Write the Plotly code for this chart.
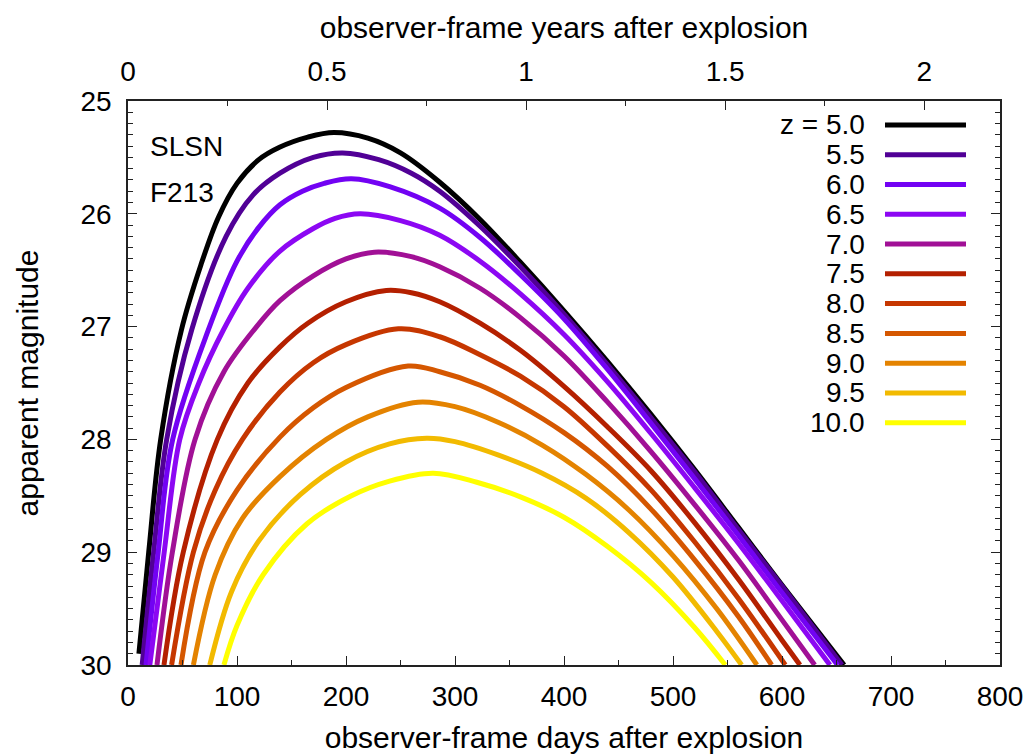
import plotly.graph_objects as go

# ---------------- data ----------------
redshift_labels = ["z = 5.0", "5.5", "6.0", "6.5", "7.0", "7.5", "8.0", "8.5", "9.0", "9.5", "10.0"]
line_colors = ["#000000", "#510096", "#7202F3", "#8C07F3", "#A11096", "#B42000",
               "#C63700", "#D55700", "#E48300", "#F2BA00", "#FFFF00"]

days_z50 = [10, 19, 30, 49, 67, 83, 100, 120, 139, 165, 189, 220, 250, 286, 323, 360, 400, 440, 480, 520, 560, 600, 657]
mag_z50 = [29.9, 29.0, 28.0, 27.03, 26.45, 26.03, 25.73, 25.52, 25.41, 25.32, 25.28, 25.33, 25.46, 25.72, 26.05, 26.43, 26.86, 27.31, 27.78, 28.27, 28.78, 29.29, 30.0]

days_z55 = [13, 23.5, 35.5, 58.4, 90, 115, 139.4, 170, 197, 230, 260, 286, 323, 360, 400, 440, 480, 520, 560, 600, 655]
mag_z55 = [30.0, 29.0, 28.0, 27.03, 26.2, 25.83, 25.64, 25.50, 25.46, 25.52, 25.64, 25.80, 26.11, 26.47, 26.89, 27.34, 27.81, 28.29, 28.80, 29.30, 30.0]

days_z60 = [16.5, 27.7, 41, 73.7, 100, 120, 139.4, 160, 180, 205, 240, 286, 323, 360, 400, 440, 480, 520, 560, 600, 651]
mag_z60 = [30.0, 29.0, 28.0, 27.03, 26.42, 26.12, 25.92, 25.8, 25.73, 25.69, 25.76, 25.95, 26.21, 26.54, 26.93, 27.38, 27.86, 28.35, 28.85, 29.36, 30.0]

days_z65 = [20, 33.2, 47.5, 65, 87.5, 110, 139.4, 170, 190, 213, 250, 286, 323, 360, 400, 440, 480, 520, 560, 600, 644]
mag_z65 = [30.0, 29.0, 28.0, 27.5, 27.03, 26.66, 26.33, 26.13, 26.04, 26.0, 26.06, 26.19, 26.42, 26.71, 27.07, 27.49, 27.95, 28.43, 28.92, 29.43, 30.0]

days_z70 = [26.6, 40.7, 61.5, 88, 118, 139.4, 170, 200, 226, 260, 286, 323, 360, 400, 440, 480, 520, 560, 600, 630]
mag_z70 = [30.0, 29.0, 28.0, 27.4, 27.0, 26.77, 26.55, 26.4, 26.34, 26.38, 26.47, 26.66, 26.92, 27.26, 27.67, 28.11, 28.58, 29.07, 29.60, 30.0]

days_z75 = [33, 50.7, 82, 110, 139.4, 165, 200, 237, 260, 286, 323, 360, 400, 440, 480, 520, 560, 600, 616.5]
mag_z75 = [30.0, 29.0, 28.0, 27.5, 27.18, 26.97, 26.78, 26.68, 26.70, 26.78, 26.97, 27.21, 27.53, 27.89, 28.28, 28.74, 29.24, 29.78, 30.0]

days_z80 = [40, 60, 80, 105, 139.4, 170, 200, 248, 286, 323, 360, 400, 440, 480, 520, 560, 603]
mag_z80 = [30.0, 29.0, 28.45, 28.0, 27.58, 27.32, 27.16, 27.02, 27.09, 27.25, 27.44, 27.71, 28.06, 28.45, 28.91, 29.41, 30.0]

days_z85 = [48.6, 70.6, 100, 139.4, 170, 200, 257, 286, 323, 360, 400, 440, 480, 520, 560, 590.5]
mag_z85 = [30.0, 29.0, 28.45, 27.98, 27.72, 27.54, 27.35, 27.40, 27.52, 27.70, 27.94, 28.24, 28.62, 29.07, 29.57, 30.0]

days_z90 = [60, 80, 105, 139.4, 182, 220, 266, 300, 340, 380, 420, 460, 500, 540, 577]
mag_z90 = [30.0, 29.2, 28.7, 28.33, 28.0, 27.8, 27.67, 27.71, 27.85, 28.05, 28.31, 28.63, 29.03, 29.5, 30.0]

days_z95 = [75, 95, 120, 158, 200, 240, 274, 300, 340, 380, 420, 460, 500, 540, 563]
mag_z95 = [30.0, 29.35, 28.9, 28.49, 28.2, 28.04, 27.99, 28.02, 28.14, 28.30, 28.52, 28.83, 29.22, 29.70, 30.0]

days_z100 = [88, 100, 124, 164, 205, 240, 280, 320, 360, 400, 440, 480, 520, 548]
mag_z100 = [30.0, 29.65, 29.2, 28.75, 28.5, 28.37, 28.30, 28.38, 28.51, 28.69, 28.95, 29.27, 29.67, 30.0]

curve_days = [days_z50, days_z55, days_z60, days_z65, days_z70, days_z75,
              days_z80, days_z85, days_z90, days_z95, days_z100]
curve_mags = [mag_z50, mag_z55, mag_z60, mag_z65, mag_z70, mag_z75,
              mag_z80, mag_z85, mag_z90, mag_z95, mag_z100]

day_ticks = [0, 100, 200, 300, 400, 500, 600, 700, 800]
year_ticks = [0, 0.5, 1, 1.5, 2]
year_tick_text = ["0", "0.5", "1", "1.5", "2"]
mag_ticks = [25, 26, 27, 28, 29, 30]
DAYS_PER_YEAR = 365.25

# ---------------- figure ----------------
FONT = "Liberation Sans, Arial, Helvetica, sans-serif"
TICK_SIZE = 28
TITLE_SIZE = 30

fig = go.Figure()
for lab, col, dd, mm in zip(redshift_labels, line_colors, curve_days, curve_mags):
    fig.add_trace(go.Scatter(
        x=dd, y=mm, mode="lines", name=lab, showlegend=False,
        line=dict(color=col, width=5, shape="spline", smoothing=1.0),
        hoverinfo="skip",
    ))

# invisible companion trace so the top (years) and right axes are drawn
fig.add_trace(go.Scatter(
    x=[d / DAYS_PER_YEAR for d in days_z50], y=mag_z50, xaxis="x2", yaxis="y2",
    mode="lines", line=dict(width=0, color="rgba(0,0,0,0)"), opacity=0,
    showlegend=False, hoverinfo="skip",
))

axis_common = dict(
    showgrid=False, zeroline=False, showline=True, linecolor="#222222", linewidth=1.5,
    ticks="inside", ticklen=9, tickwidth=1.2, tickcolor="#222222",
    tickfont=dict(family=FONT, size=TICK_SIZE, color="black"),
    automargin=False,
)

fig.update_layout(
    width=1034, height=754,
    margin=dict(l=128, r=34, t=101, b=89),
    paper_bgcolor="white", plot_bgcolor="white",
    font=dict(family=FONT, color="black"),
    showlegend=False,
    xaxis=dict(
        range=[0, 800], tickmode="array", tickvals=day_ticks,
        minor=dict(dtick=50, tick0=0, ticks="inside", ticklen=5, tickcolor="#222222"),
        title=dict(text="observer-frame days after explosion",
                   font=dict(family=FONT, size=TITLE_SIZE), standoff=20),
        ticklabelstandoff=6,
        **axis_common,
    ),
    xaxis2=dict(
        overlaying="x", side="top", anchor="y2",
        range=[0, 800 / DAYS_PER_YEAR], tickmode="array", tickvals=year_ticks, ticktext=year_tick_text,
        minor=dict(dtick=0.25, tick0=0, ticks="inside", ticklen=5, tickcolor="#222222"),
        title=dict(text="observer-frame years after explosion",
                   font=dict(family=FONT, size=TITLE_SIZE), standoff=9),
        ticklabelstandoff=7,
        **axis_common,
    ),
    yaxis=dict(
        range=[30, 25], tickmode="array", tickvals=mag_ticks,
        minor=dict(dtick=0.1, tick0=25, ticks="inside", ticklen=5, tickcolor="#222222"),
        title=dict(text="apparent magnitude", font=dict(family=FONT, size=TITLE_SIZE), standoff=33),
        ticklabelstandoff=9,
        **axis_common,
    ),
    yaxis2=dict(
        overlaying="y", side="right", anchor="x2",
        range=[30, 25], tickmode="array", tickvals=mag_ticks, showticklabels=False,
        minor=dict(dtick=0.1, tick0=25, ticks="inside", ticklen=5, tickcolor="#222222"),
        **axis_common,
    ),
)

# ---------------- key (gnuplot style: text, then sample line) ----------------
plot_left, plot_top, plot_w, plot_h = 128, 101, 872, 564
def px_x(x):
    return (x - plot_left) / plot_w
def px_y(y):
    return 1 - (y - plot_top) / plot_h

for i, (lab, col) in enumerate(zip(redshift_labels, line_colors)):
    yc = 125 + 29.77 * i
    fig.add_annotation(x=px_x(867), y=px_y(yc), xref="paper", yref="paper",
                       text=lab, showarrow=False, xanchor="right", yanchor="middle",
                       font=dict(family=FONT, size=TICK_SIZE, color="black"))
    fig.add_shape(type="line", xref="paper", yref="paper",
                  x0=px_x(885), x1=px_x(966), y0=px_y(yc), y1=px_y(yc),
                  line=dict(color=col, width=5))

fig.add_annotation(x=px_x(148), y=px_y(146), xref="paper", yref="paper", text="SLSN",
                   showarrow=False, xanchor="left", yanchor="middle",
                   font=dict(family=FONT, size=TICK_SIZE, color="black"))
fig.add_annotation(x=px_x(148), y=px_y(192.5), xref="paper", yref="paper", text="F213",
                   showarrow=False, xanchor="left", yanchor="middle",
                   font=dict(family=FONT, size=TICK_SIZE, color="black"))

fig.write_html("out.html")
